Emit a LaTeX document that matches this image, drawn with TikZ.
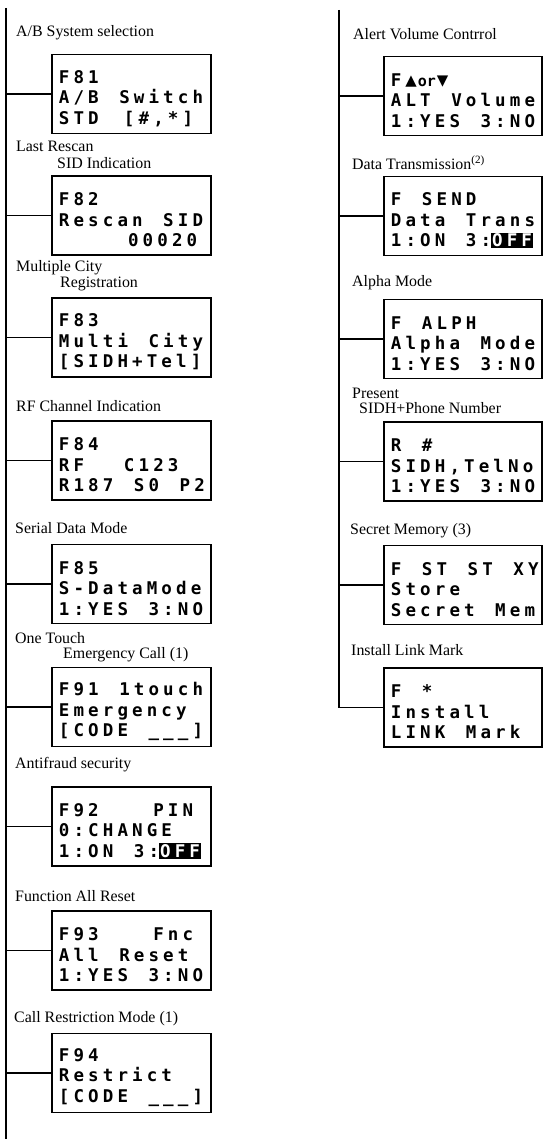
\documentclass[tikz,border=0pt]{standalone}
\usepackage{fontspec}
\usepackage{xcolor}
\setmainfont{Liberation Serif}
\newfontfamily\lcdfont{DejaVu Sans Mono}[LetterSpace=23.5,WordSpace={1.40,0,0}]
\newfontfamily\lcdtight{DejaVu Sans Mono}
\newcommand{\invtxt}[1]{{\setlength{\fboxsep}{1pt}\colorbox{black}{\textcolor{white}{#1}}}}
\newcommand{\tri}{\hspace*{4pt}{\lcdtight\bfseries\fontsize{15pt}{15pt}\selectfont{\fontsize{19pt}{19pt}\selectfont ▲}\kern1pt or\kern1pt{\fontsize{19pt}{19pt}\selectfont ▼}}}
\tikzset{
  lcdbox/.style={draw, line width=1.5pt, minimum width=159pt, minimum height=79pt, inner sep=0pt},
  lcdtxt/.style={anchor=west, align=left, inner sep=0pt, xshift=7.5pt, yshift=-4.5pt,
    font={\lcdfont\bfseries\fontsize{17.5pt}{20.5pt}\selectfont}},
  lbl/.style={anchor=west, inner sep=0pt, font={\fontsize{15.9pt}{16pt}\selectfont}},
  wire/.style={line width=1.4pt}
}
\begin{document}
\begin{tikzpicture}[x=1pt,y=-1pt]
\useasboundingbox (0,0) rectangle (543,1139);
% ---------- left column ----------
\coordinate (ltop) at (6,8);
\coordinate (lbot) at (6,1139);
\draw[wire] (ltop) -- (lbot);

\node[lcdbox] (b81) at (131.5,94) {};
\node[lcdtxt] (t81) at (b81.west) {F81\\A/B Switch\\STD\phantom{00}{[}\#,*]};
\node[lcdbox] (b82) at (131.5,215.5) {};
\node[lcdtxt] (t82) at (b82.west) {F82\\Rescan SID\\\phantom{00000}00020};
\node[lcdbox] (b83) at (131.5,337.5) {};
\node[lcdtxt] (t83) at (b83.west) {F83\\Multi City\\{[}SIDH+Tel]};
\node[lcdbox] (b84) at (131.5,460.5) {};
\node[lcdtxt] (t84) at (b84.west) {F84\\RF\phantom{000}C123\\R187 S0 P2};
\node[lcdbox] (b85) at (131.5,584) {};
\node[lcdtxt] (t85) at (b85.west) {F85\\S-DataMode\\1:YES 3:NO};
\node[lcdbox] (b91) at (131.5,707) {};
\node[lcdtxt] (t91) at (b91.west) {F91 1touch\\Emergency\\{[}CODE \_\_\_]};
\node[lcdbox] (b92) at (131.5,826.5) {};
\node[lcdtxt] (t92) at (b92.west) {F92\phantom{0000}PIN\\0:CHANGE\\1:ON 3:\invtxt{OFF}};
\node[lcdbox] (b93) at (131.5,950.5) {};
\node[lcdtxt] (t93) at (b93.west) {F93\phantom{0000}Fnc\\All Reset\\1:YES 3:NO};
\node[lcdbox] (b94) at (131.5,1073) {};
\node[lcdtxt] (t94) at (b94.west) {F94\\Restrict\\{[}CODE \_\_\_]};

\foreach \b/\y in {b81/94,b82/215.5,b83/337.5,b84/460.5,b85/584,b91/707,b92/826.5,b93/950.5,b94/1073}{
  \coordinate (s\b) at (6,\y);
  \draw[wire] (s\b) -- (\b.west);
}

\node[lbl] (l81) at (16,33) {A/B System selection};
\node[lbl] (l82a) at (16,146) {Last Rescan};
\node[lbl] (l82b) at (57,163) {SID Indication};
\node[lbl] (l83a) at (16,268) {Multiple City};
\node[lbl] (l83b) at (60,284) {Registration};
\node[lbl] (l84) at (16,406) {RF Channel Indication};
\node[lbl] (l85) at (15,528) {Serial Data Mode};
\node[lbl] (l91a) at (15,638) {One Touch};
\node[lbl] (l91b) at (63,655) {Emergency Call (1)};
\node[lbl] (l92) at (15,765) {Antifraud security};
\node[lbl] (l93) at (15,896) {Function All Reset};
\node[lbl] (l94) at (14,1019) {Call Restriction Mode (1)};

% ---------- right column ----------
\coordinate (rtop) at (339,10);
\coordinate (rcorner) at (339,707.5);

\node[lcdbox, minimum width=158pt] (r1) at (463,96) {};
\node[lcdtxt] (u1) at (r1.west) {F\tri\\ALT Volume\\1:YES 3:NO};
\node[lcdbox, minimum width=158pt] (r2) at (463,216) {};
\node[lcdtxt] (u2) at (r2.west) {F SEND\\Data Trans\\1:ON 3:\invtxt{OFF}};
\node[lcdbox, minimum width=158pt] (r3) at (463,339) {};
\node[lcdtxt] (u3) at (r3.west) {F ALPH\\Alpha Mode\\1:YES 3:NO};
\node[lcdbox, minimum width=158pt] (r4) at (463,461.5) {};
\node[lcdtxt] (u4) at (r4.west) {R \#\\SIDH,TelNo\\1:YES 3:NO};
\node[lcdbox, minimum width=158pt] (r5) at (463,585) {};
\node[lcdtxt] (u5) at (r5.west) {F ST ST XY\\Store\\Secret Mem};
\node[lcdbox, minimum width=158pt] (r6) at (463,707.5) {};
\node[lcdtxt] (u6) at (r6.west) {F *\\Install\\LINK Mark};

\draw[wire] (rtop) -- (rcorner) -- (r6.west);
\foreach \b/\y in {r1/96,r2/216,r3/339,r4/461.5,r5/585}{
  \coordinate (s\b) at (339,\y);
  \draw[wire] (s\b) -- (\b.west);
}

\node[lbl] (m1) at (353,34) {Alert Volume Contrrol};
\node[lbl] (m2) at (352,163) {Data Transmission\textsuperscript{(2)}};
\node[lbl] (m3) at (352,283) {Alpha Mode};
\node[lbl] (m4a) at (352,393) {Present};
\node[lbl] (m4b) at (359,408) {SIDH+Phone Number};
\node[lbl] (m5) at (350,531) {Secret Memory (3)};
\node[lbl] (m6) at (351,650) {Install Link Mark};
\end{tikzpicture}
\end{document}
